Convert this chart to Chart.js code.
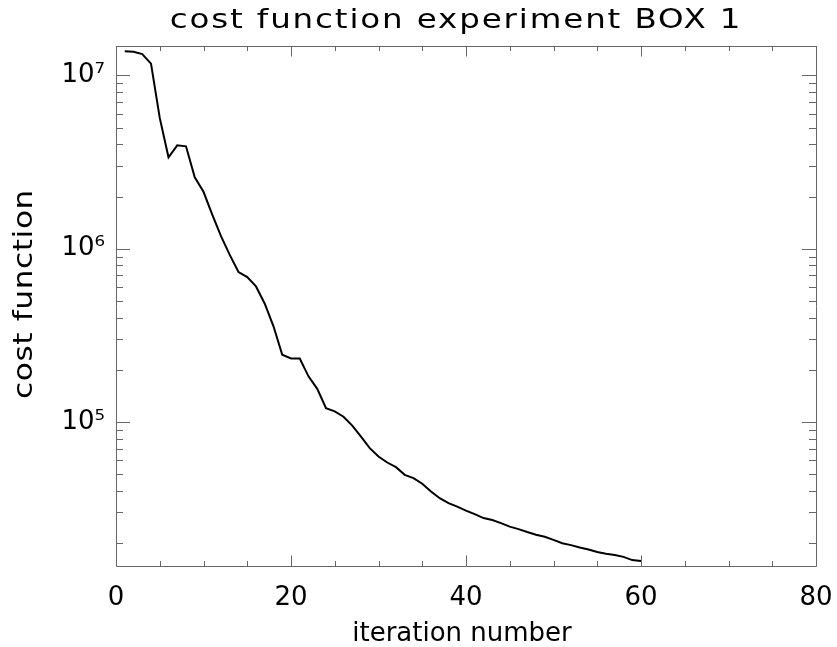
<!DOCTYPE html>
<html>
<head>
<meta charset="utf-8">
<script src="https://cdn.jsdelivr.net/npm/chart.js@4"></script>
<style>
  html, body { margin: 0; padding: 0; background: #fff; }
  #wrap { width: 837px; height: 647px; }
</style>
</head>
<body>
<div id="wrap"><canvas id="chart" width="837" height="647"></canvas></div>
<script>
// iteration numbers and cost function values
const iterations = [
  1, 2, 3, 4, 5, 6, 7, 8, 9, 10,
  11, 12, 13, 14, 15, 16, 17, 18, 19, 20,
  21, 22, 23, 24, 25, 26, 27, 28, 29, 30,
  31, 32, 33, 34, 35, 36, 37, 38, 39, 40,
  41, 42, 43, 44, 45, 46, 47, 48, 49, 50,
  51, 52, 53, 54, 55, 56, 57, 58, 59, 60
];
const costValues = [
  1.38e7, 1.37e7, 1.33e7, 1.17e7, 5.69e6, 3.37e6, 3.95e6, 3.9e6, 2.58e6, 2.13e6,
  1.57e6, 1.18e6, 9.2e5, 7.33e5, 6.85e5, 6.05e5, 4.81e5, 3.56e5, 2.44e5, 2.32e5,
  2.32e5, 1.83e5, 1.55e5, 1.2e5, 1.15e5, 1.07e5, 9.5e4, 8.2e4, 7.05e4, 6.3e4,
  5.82e4, 5.47e4, 4.94e4, 4.73e4, 4.39e4, 3.96e4, 3.62e4, 3.39e4, 3.24e4, 3.07e4,
  2.93e4, 2.78e4, 2.71e4, 2.6e4, 2.48e4, 2.4e4, 2.31e4, 2.23e4, 2.17e4, 2.08e4,
  1.99e4, 1.94e4, 1.88e4, 1.83e4, 1.77e4, 1.73e4, 1.7e4, 1.66e4, 1.59e4, 1.57e4
];
const xTickValues = [0, 20, 40, 60, 80];
const xMinorStep = 5;
const yTickValues = [1e5, 1e6, 1e7];
const titleText = 'cost function experiment BOX 1';
const xTitleText = 'iteration number';
const yTitleText = 'cost function';

const axisColor = '#666';
const fontFamily = '"DejaVu Sans", sans-serif';
const supers = { '4': '\u2074', '5': '\u2075', '6': '\u2076', '7': '\u2077', '8': '\u2078' };

// draw text stretched horizontally, closer to the wide IDL vector font
function wideText(ctx, text, x, y, stretch, spacing) {
  ctx.save();
  ctx.translate(x, y);
  ctx.scale(stretch, 1);
  ctx.letterSpacing = spacing + 'px';
  ctx.fillText(text, 0, 0);
  ctx.restore();
}

// IDL-style frame: box on all four sides with inward ticks, plus titles
const framePlugin = {
  id: 'frame',
  afterDraw(chart) {
    const { ctx, chartArea: a } = chart;
    const xs = chart.scales.x, ys = chart.scales.y;
    ctx.save();
    ctx.strokeStyle = axisColor;
    ctx.lineWidth = 1;
    ctx.beginPath();
    ctx.rect(Math.round(a.left) + 0.5, Math.round(a.top) + 0.5,
      Math.round(a.right - a.left), Math.round(a.bottom - a.top));
    ctx.stroke();

    ctx.beginPath();
    for (let v = xs.min; v <= xs.max; v += xMinorStep) {
      const px = Math.round(xs.getPixelForValue(v)) + 0.5;
      const len = xTickValues.includes(v) ? 10.5 : 5;
      ctx.moveTo(px, a.bottom); ctx.lineTo(px, a.bottom - len);
      ctx.moveTo(px, a.top); ctx.lineTo(px, a.top + len);
    }
    for (let e = 4; e <= 7; e++) {
      for (let k = 1; k <= 9; k++) {
        const v = k * Math.pow(10, e);
        if (v < ys.min || v > ys.max) continue;
        const py = Math.round(ys.getPixelForValue(v)) + 0.5;
        const len = k === 1 ? 14 : 7;
        ctx.moveTo(a.left, py); ctx.lineTo(a.left + len, py);
        ctx.moveTo(a.right, py); ctx.lineTo(a.right - len, py);
      }
    }
    ctx.stroke();

    ctx.fillStyle = '#000';
    ctx.textAlign = 'center';
    ctx.textBaseline = 'alphabetic';
    ctx.font = '26px ' + fontFamily;
    wideText(ctx, titleText, 456, 28, 1.25, 1.5);
    wideText(ctx, xTitleText, 462, 641, 1.0, 0);

    ctx.save();
    ctx.translate(32, 294);
    ctx.rotate(-Math.PI / 2);
    wideText(ctx, yTitleText, 0, 0, 1.2, 0.5);
    ctx.restore();
    ctx.restore();
  }
};

new Chart(document.getElementById('chart'), {
  type: 'line',
  data: {
    datasets: [{
      data: iterations.map((it, i) => ({ x: it, y: costValues[i] })),
      borderColor: '#000',
      borderWidth: 2,
      pointRadius: 0,
      tension: 0,
      fill: false
    }]
  },
  options: {
    responsive: false,
    animation: false,
    devicePixelRatio: 1,
    layout: { padding: { top: 46, right: 21, left: 0, bottom: 0 } },
    plugins: { legend: { display: false }, tooltip: { enabled: false }, title: { display: false } },
    scales: {
      x: {
        type: 'linear',
        min: 0,
        max: 80,
        grid: { display: false, drawTicks: false },
        border: { display: false },
        afterBuildTicks: (s) => { s.ticks = xTickValues.map(v => ({ value: v })); },
        afterFit: (s) => { s.height = 81; s.paddingLeft = 0; s.paddingRight = 0; },
        ticks: {
          padding: 17,
          color: '#000',
          maxRotation: 0,
          font: { family: fontFamily, size: 26 }
        }
      },
      y: {
        type: 'logarithmic',
        min: 1.47e4,
        max: 1.48e7,
        grid: { display: false, drawTicks: false },
        border: { display: false },
        afterBuildTicks: (s) => { s.ticks = yTickValues.map(v => ({ value: v })); },
        afterFit: (s) => { s.width = 116; },
        ticks: {
          padding: 11,
          color: '#000',
          font: { family: fontFamily, size: 26 },
          callback: (v) => '10' + supers[String(Math.round(Math.log10(v)))]
        }
      }
    }
  },
  plugins: [framePlugin]
});
</script>
</body>
</html>
